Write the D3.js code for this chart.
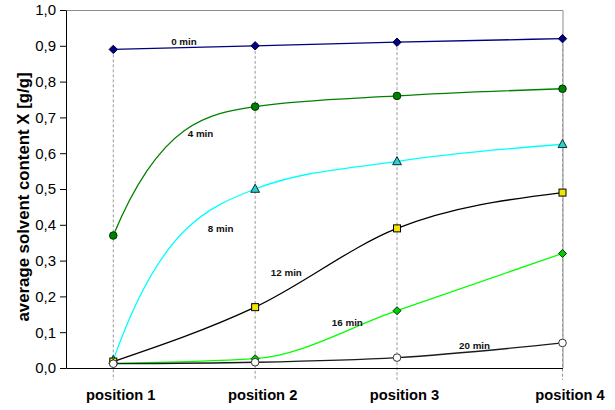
<!DOCTYPE html>
<html>
<head>
<meta charset="utf-8">
<script src="https://cdn.jsdelivr.net/npm/d3@7"></script>
<style>
  html, body { margin: 0; padding: 0; background: #fff; }
  svg { display: block; font-family: "Liberation Sans", Arial, sans-serif; }
</style>
</head>
<body>
<svg id="chart" width="615" height="410"></svg>
<script>
// Sampling positions along the dryer and their labels
const positionLabels = ["position 1", "position 2", "position 3", "position 4"];
const positionX = [1, 4, 7, 10.5];

// Average solvent content X [g/g] for each drying time
const seriesNames = ["0 min", "4 min", "8 min", "12 min", "16 min", "20 min"];
const min0  = [0.89, 0.90, 0.91, 0.92];
const min4  = [0.37, 0.73, 0.76, 0.78];
const min8  = [0.022, 0.50, 0.577, 0.625];
const min12 = [0.018, 0.17, 0.39, 0.49];
const min16 = [0.013, 0.026, 0.16, 0.32];
const min20 = [0.012, 0.016, 0.029, 0.07];

// Y axis ticks
const yTicks = [0, 0.1, 0.2, 0.3, 0.4, 0.5, 0.6, 0.7, 0.8, 0.9, 1.0];

const seriesValues = [min0, min4, min8, min12, min16, min20];

const styles = [
  { line: "#000080", fill: "#000080", stroke: "#000033", shape: "diamond", size: 4.2 },
  { line: "#008000", fill: "#008000", stroke: "#003300", shape: "circle",  size: 3.8 },
  { line: "#00ffff", fill: "#33cccc", stroke: "#003333", shape: "triangle", size: 4.4 },
  { line: "#000000", fill: "#f2e600", stroke: "#000000", shape: "square",  size: 3.5 },
  { line: "#00ff00", fill: "#00cc00", stroke: "#003300", shape: "diamond", size: 4.0 },
  { line: "#1a1a1a", fill: "#ffffff", stroke: "#333333", shape: "circle",  size: 3.8 }
];

// Curve label anchors in data units (text baseline centre)
const labelAt = [
  { x: 2.495, y: 0.902 },
  { x: 2.845, y: 0.645 },
  { x: 3.27,  y: 0.381 },
  { x: 4.66,  y: 0.257 },
  { x: 5.95,  y: 0.117 },
  { x: 8.64,  y: 0.054 }
];

const margin = { left: 66, right: 52.5, top: 10, bottom: 42 };
const W = 615, H = 410;
const svg = d3.select("#chart");

const x = d3.scaleLinear().domain([0, 10.5]).range([margin.left, W - margin.right]);
const y = d3.scaleLinear().domain([0, 1]).range([H - margin.bottom, margin.top]);

// Smooth Hermite spline: monotone tangents inside, steeper start where the curve bends hard
function smoothCurve(context) {
  let xs, ys;
  return {
    areaStart() {}, areaEnd() {},
    lineStart() { xs = []; ys = []; },
    point(px, py) { xs.push(+px); ys.push(+py); },
    lineEnd() {
      const n = xs.length;
      if (!n) return;
      context.moveTo(xs[0], ys[0]);
      if (n === 1) return;
      const h = [], s = [];
      for (let i = 0; i < n - 1; i++) {
        h[i] = xs[i + 1] - xs[i];
        s[i] = (ys[i + 1] - ys[i]) / h[i];
      }
      const m = new Array(n).fill(0);
      for (let i = 1; i < n - 1; i++) {
        const p = (s[i - 1] * h[i] + s[i] * h[i - 1]) / (h[i - 1] + h[i]);
        m[i] = (Math.sign(s[i - 1]) + Math.sign(s[i])) *
               Math.min(Math.abs(s[i - 1]), Math.abs(s[i]), 0.5 * Math.abs(p)) || 0;
      }
      if (n === 2) {
        m[0] = m[1] = s[0];
      } else {
        const a = (3 * s[0] - m[1]) / 2;
        const b = 3 * s[0] - 2 * m[1];
        m[0] = (Math.abs(b) > Math.abs(a) && Math.sign(b) === Math.sign(s[0])) ? b : a;
        m[n - 1] = (3 * s[n - 2] - m[n - 2]) / 2;
      }
      for (let i = 0; i < n - 1; i++) {
        const d = h[i] / 3;
        context.bezierCurveTo(xs[i] + d, ys[i] + d * m[i],
                              xs[i + 1] - d, ys[i + 1] - d * m[i + 1],
                              xs[i + 1], ys[i + 1]);
      }
    }
  };
}

// Plot frame (top and right edges)
svg.append("path")
  .attr("d", `M${x(0)},${y(1) + 0.5}H${x(10.5) + 0.5}V${y(0)}`)
  .attr("fill", "none").attr("stroke", "#8c8c8c").attr("stroke-width", 1);

// Drop lines from the highest value at each position down past the axis
positionX.forEach((px, i) => {
  const top = d3.max(seriesValues, v => v[i]);
  svg.append("line")
    .attr("x1", x(px)).attr("x2", x(px))
    .attr("y1", y(top)).attr("y2", y(0) + 12)
    .attr("stroke", "#999").attr("stroke-width", 1)
    .attr("stroke-dasharray", "3,2");
});

// Y axis
const yAxis = d3.axisLeft(y)
  .tickValues(yTicks)
  .tickSize(6).tickSizeOuter(0).tickPadding(4)
  .tickFormat(d => d3.format(".1f")(d).replace(".", ","));
const gy = svg.append("g").attr("transform", `translate(${x(0)},0)`).call(yAxis);
gy.selectAll("text").attr("font-size", 15).attr("font-family", "Liberation Sans, Arial, sans-serif").attr("fill", "#000");
gy.selectAll("line, path").attr("stroke", "#000");

// X axis
const xAxis = d3.axisBottom(x)
  .tickValues(positionX)
  .tickSize(0).tickSizeOuter(0).tickPadding(22)
  .tickFormat((d, i) => positionLabels[i]);
const gx = svg.append("g").attr("transform", `translate(0,${y(0)})`).call(xAxis);
gx.selectAll("text")
  .attr("font-size", 14.7).attr("font-weight", "bold")
  .attr("font-family", "Liberation Sans, Arial, sans-serif")
  .attr("fill", "#000").attr("dx", 7);
gx.selectAll("path").attr("stroke", "#000");

// Y axis title
svg.append("text")
  .attr("transform", `translate(29,${(y(0) + y(1)) / 2 + 8}) rotate(-90)`)
  .attr("text-anchor", "middle")
  .attr("font-size", 16.8).attr("font-weight", "bold")
  .text("average solvent content X [g/g]");

// Series lines and markers
const line = d3.line().x((d, i) => x(positionX[i])).y(d => y(d)).curve(smoothCurve);

function marker(g, shape, r) {
  if (shape === "circle") return g.append("circle").attr("r", r);
  if (shape === "square") return g.append("rect").attr("x", -r).attr("y", -r).attr("width", 2 * r).attr("height", 2 * r);
  if (shape === "triangle") return g.append("path").attr("d", `M0,${-r * 1.1}L${r},${r * 0.75}L${-r},${r * 0.75}Z`);
  return g.append("path").attr("d", `M0,${-r}L${r},0L0,${r}L${-r},0Z`);
}

seriesValues.forEach((vals, si) => {
  const st = styles[si];
  const g = svg.append("g");
  g.append("path")
    .attr("d", line(vals))
    .attr("fill", "none")
    .attr("stroke", st.line)
    .attr("stroke-width", 1.3);
  vals.forEach((v, i) => {
    const mg = g.append("g").attr("transform", `translate(${x(positionX[i])},${y(v)})`);
    marker(mg, st.shape, st.size)
      .attr("fill", st.fill).attr("stroke", st.stroke).attr("stroke-width", 1);
  });
});

// Curve labels
seriesNames.forEach((name, si) => {
  svg.append("text")
    .attr("x", x(labelAt[si].x)).attr("y", y(labelAt[si].y))
    .attr("text-anchor", "middle")
    .attr("font-size", 9.8).attr("font-weight", "bold")
    .attr("fill", "#111")
    .text(name);
});
</script>
</body>
</html>
